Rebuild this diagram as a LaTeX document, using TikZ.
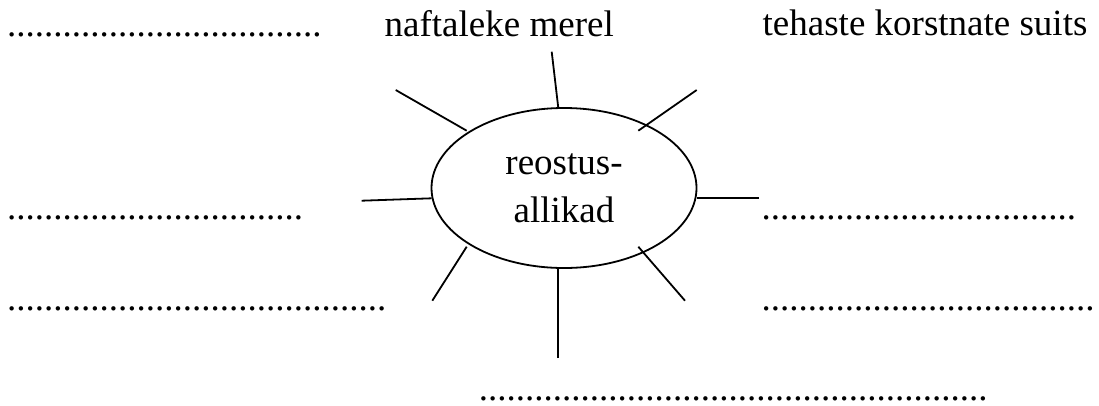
\documentclass[tikz,border=0pt]{standalone}
\usepackage{fontspec}
\setmainfont{Liberation Serif}
\usetikzlibrary{shapes.geometric}
\newcommand{\dotrow}[1]{\foreach \i in {1,...,#1}{.}}
\begin{document}
\begin{tikzpicture}[x=1pt,y=-1pt,
  txt/.style={anchor=base west,inner sep=0pt,font=\fontsize{37}{48}\selectfont},
  ctxt/.style={anchor=base,inner sep=0pt,font=\fontsize{37}{48}\selectfont},
  spoke/.style={line width=1.8pt},
  oval/.style={ellipse,draw,line width=1.8pt,minimum width=265pt,minimum height=160pt,inner sep=0pt}]
\useasboundingbox (0,0) rectangle (1099,405);
% texts
\node[txt] (d1) at (7,36) {\dotrow{34}};
\node[txt] (naft) at (384.5,36) {naftaleke merel};
\node[txt] (teh) at (762.5,35.5) {tehaste korstnate suits};
\node[txt] (d2l) at (7,219) {\dotrow{32}};
\node[txt] (d2r) at (761.3,219) {\dotrow{34}};
\node[txt] (d3l) at (7,310) {\dotrow{41}};
\node[txt] (d3r) at (761.3,310) {\dotrow{36}};
\node[txt] (d4) at (478.6,400.3) {\dotrow{55}};
% ellipse
\node[oval] (ell) at (564,188) {};
\node[ctxt] (t1) at (564,174) {reostus-};
\node[ctxt] (t2) at (564,222.3) {allikad};
% spoke ends
\coordinate (a1) at (551.7,51.7);   \coordinate (b1) at (558.3,108);
\coordinate (a2) at (395.7,90);     \coordinate (b2) at (466.7,130.7);
\coordinate (a3) at (696.7,90);     \coordinate (b3) at (638.3,130.7);
\coordinate (a4) at (361.7,200.7);  \coordinate (b4) at (431.7,198.3);
\coordinate (a5) at (759,198);      \coordinate (b5) at (696.5,198);
\coordinate (a6) at (432.3,300.7);  \coordinate (b6) at (466.7,246.7);
\coordinate (a7) at (558.3,358);    \coordinate (b7) at (558.3,268);
\coordinate (a8) at (685,300.7);    \coordinate (b8) at (638.3,246.7);
\foreach \k in {1,...,8}{\draw[spoke] (a\k) -- (b\k);}
\end{tikzpicture}
\end{document}
